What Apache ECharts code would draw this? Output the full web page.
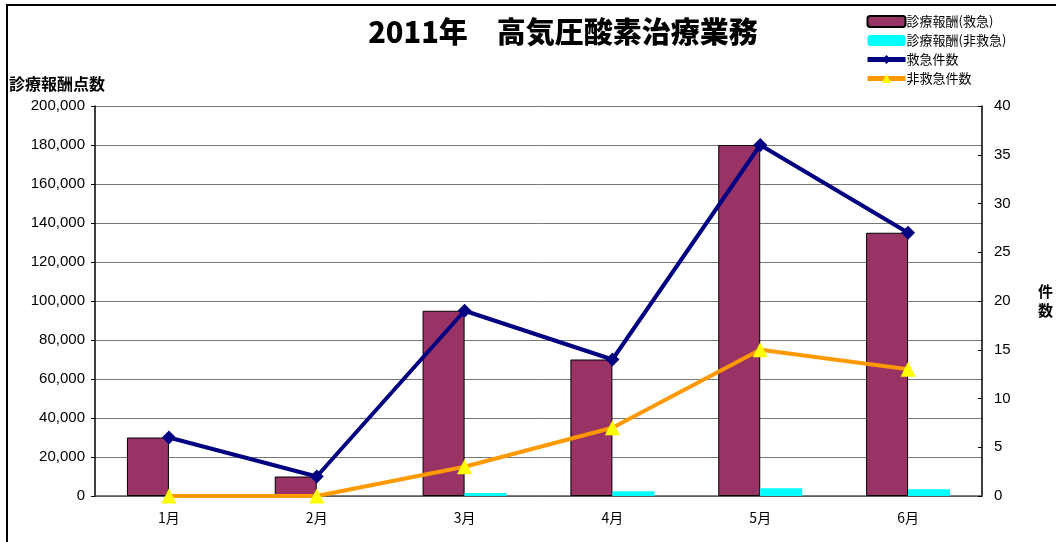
<!DOCTYPE html>
<html>
<head>
<meta charset="utf-8">
<script src="https://cdn.jsdelivr.net/npm/echarts@6/dist/echarts.min.js"></script>
<style>
  html, body { margin: 0; padding: 0; background: #fff; }
  #main { width: 1056px; height: 542px; }
</style>
</head>
<body>
<div id="main"></div>
<script>
var months = ['1月', '2月', '3月', '4月', '5月', '6月'];
var feeEmergency = [30000, 10000, 95000, 70000, 180000, 135000];
var feeNonEmergency = [0, 0, 1500, 2500, 4000, 3500];
var casesEmergency = [6, 2, 19, 14, 36, 27];
var casesNonEmergency = [0, 0, 3, 7, 15, 13];

var chart = echarts.init(document.getElementById('main'), null, { renderer: 'canvas' });
var font = '"Noto Sans CJK JP", "Noto Sans", sans-serif';
var numFont = '"Liberation Sans", "Noto Sans CJK JP", sans-serif';

var option = {
  animation: false,
  textStyle: { fontFamily: font },
  title: {
    text: '2011年　高気圧酸素治療業務',
    left: 558,
    textAlign: 'center',
    top: 12,
    textStyle: { fontSize: 29, fontWeight: 900, color: '#000', fontFamily: font }
  },
  legend: {
    orient: 'vertical',
    left: 860,
    top: 10,
    itemGap: 6,
    itemWidth: 38,
    itemHeight: 11,
    textStyle: { fontSize: 13, color: '#000', padding: [0, 0, 0, -4] },
    data: [
      { name: '診療報酬(救急)' },
      { name: '診療報酬(非救急)' },
      { name: '救急件数', lineStyle: { width: 5 } },
      { name: '非救急件数', lineStyle: { width: 5 } }
    ]
  },
  graphic: [{
    type: 'rect',
    shape: { x: 7, y: 5, width: 1060, height: 560 },
    style: { fill: 'none', stroke: '#000', lineWidth: 2 },
    silent: true
  }],
  grid: { left: 95, right: 74, top: 106, bottom: 46 },
  xAxis: {
    type: 'category',
    data: months,
    axisLine: { lineStyle: { color: '#555', width: 1.5 } },
    axisTick: { inside: true, length: 5, lineStyle: { color: '#555' } },
    axisLabel: { color: '#000', fontSize: 14, margin: 15 }
  },
  yAxis: [{
    type: 'value',
    min: 0, max: 200000, interval: 20000,
    name: '診療報酬点数',
    nameLocation: 'end',
    nameGap: 14,
    nameTextStyle: { fontSize: 16, fontWeight: 'bold', color: '#000', align: 'left', padding: [0, 0, 0, -86] },
    axisLine: { show: true, lineStyle: { color: '#000', width: 1.5 } },
    axisTick: { show: true, length: 4, lineStyle: { color: '#000' } },
    axisLabel: {
      color: '#000', fontSize: 15, margin: 10, fontFamily: numFont,
      formatter: function (v) { return v.toLocaleString('en-US'); }
    },
    splitLine: { lineStyle: { color: '#777', width: 1 } }
  }, {
    type: 'value',
    min: 0, max: 40, interval: 5,
    name: '件\n数',
    nameLocation: 'middle',
    nameRotate: 0,
    nameGap: 56,
    nameTextStyle: { fontSize: 15, fontWeight: 'bold', color: '#000', lineHeight: 19 },
    axisLine: { show: true, lineStyle: { color: '#000', width: 1.5 } },
    axisTick: { show: true, inside: true, length: 4, lineStyle: { color: '#000' } },
    axisLabel: { color: '#000', fontSize: 15, margin: 12, fontFamily: numFont },
    splitLine: { show: false }
  }],
  series: [{
    name: '診療報酬(救急)',
    type: 'bar',
    data: feeEmergency,
    barWidth: 42,
    barGap: '0%',
    itemStyle: { color: '#993366', borderColor: '#000', borderWidth: 1 }
  }, {
    name: '診療報酬(非救急)',
    type: 'bar',
    data: feeNonEmergency,
    barWidth: 42,
    barGap: '0%',
    itemStyle: { color: '#00FFFF', borderWidth: 0 }
  }, {
    name: '救急件数',
    type: 'line',
    yAxisIndex: 1,
    data: casesEmergency,
    symbol: 'diamond',
    symbolSize: 14,
    lineStyle: { color: '#000080', width: 4 },
    itemStyle: { color: '#000080' },
    z: 5
  }, {
    name: '非救急件数',
    type: 'line',
    yAxisIndex: 1,
    data: casesNonEmergency,
    symbol: 'triangle',
    symbolSize: 15,
    lineStyle: { color: '#FF9900', width: 4 },
    itemStyle: { color: '#FFFF00' },
    z: 4
  }]
};

chart.setOption(option);
</script>
</body>
</html>
